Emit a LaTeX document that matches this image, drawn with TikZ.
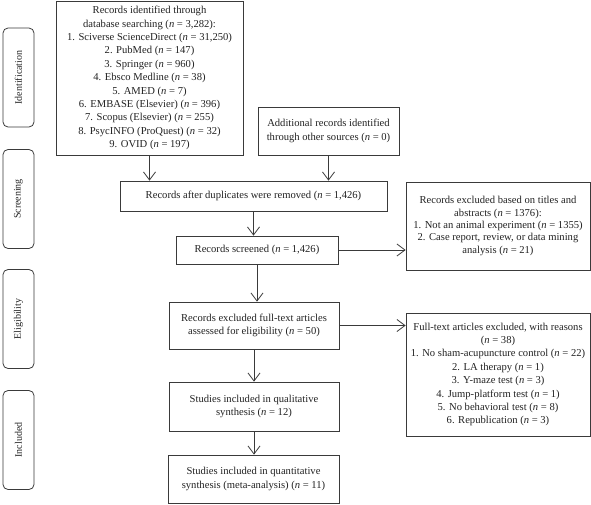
\documentclass[tikz,border=0pt]{standalone}
\usepackage{fontspec}
\setmainfont{Liberation Serif}
\usetikzlibrary{arrows.meta}
\definecolor{linec}{HTML}{3A3A3A}
\definecolor{txtc}{HTML}{222222}
\newcommand\nn{\textit{n}}
\begin{document}
\begin{tikzpicture}[x=1pt,y=-1pt,
  box/.style={draw=linec, line width=0.8pt, align=center, inner sep=0pt, text=txtc,
    font=\fontsize{10.6}{13.4}\selectfont},
  side/.style={draw=linec, line width=0.8pt, rounded corners=5pt, rotate=90, inner sep=0pt,
    minimum width=99pt, minimum height=31pt, text=txtc, font=\fontsize{10}{12}\selectfont},
  arr/.style={draw=linec, line width=0.8pt, -{Straight Barb[length=8pt,width=12pt]}}]
\useasboundingbox (0,0) rectangle (591,504);

\node[side] (sid) at (18.5,77.5) {Identification};
\node[side] (sscr) at (18.5,199) {Screening};
\node[side] (sel) at (18.5,319) {Eligibility};
\node[side] (sinc) at (18.5,440) {Included};

\node[box, minimum width=187pt, minimum height=154pt] (b1) at (149.5,78)
 {Records identified through\\ database searching (\nn{} = 3,282):\\
  1. Sciverse ScienceDirect (\nn{} = 31,250)\\ 2. PubMed (\nn{} = 147)\\
  3. Springer (\nn{} = 960)\\ 4. Ebsco Medline (\nn{} = 38)\\ 5. AMED (\nn{} = 7)\\
  6. EMBASE (Elsevier) (\nn{} = 396)\\ 7. Scopus (Elsevier) (\nn{} = 255)\\
  8. PsycINFO (ProQuest) (\nn{} = 32)\\ 9. OVID (\nn{} = 197)};

\node[box, minimum width=141pt, minimum height=48pt] (add) at (328.5,131)
 {Additional records identified\\ through other sources (\nn{} = 0)};

\node[box, minimum width=267pt, minimum height=30pt] (dup) at (253.5,196)
 {Records after duplicates were removed (\nn{} = 1,426)};

\node[box, minimum width=162pt, minimum height=28pt] (scr) at (257,250)
 {Records screened (\nn{} = 1,426)};

\node[box, minimum width=184pt, minimum height=88pt, font=\fontsize{10.6}{12.4}\selectfont] (exc1) at (498,226)
 {Records excluded based on titles and\\ abstracts (\nn{} = 1376):\\
  1. Not an animal experiment (\nn{} = 1355)\\
  2. Case report, review, or data mining\\ analysis (\nn{} = 21)};

\node[box, minimum width=170pt, minimum height=47pt] (ft) at (254,325.5)
 {Records excluded full-text articles\\ assessed for eligibility (\nn{} = 50)};

\node[box, minimum width=184pt, minimum height=123pt] (exc2) at (498,374.5)
 {Full-text articles excluded, with reasons\\ (\nn{} = 38)\\
  1. No sham-acupuncture control (\nn{} = 22)\\ 2. LA therapy (\nn{} = 1)\\
  3. Y-maze test (\nn{} = 3)\\ 4. Jump-platform test (\nn{} = 1)\\
  5. No behavioral test (\nn{} = 8)\\ 6. Republication (\nn{} = 3)};

\node[box, minimum width=170pt, minimum height=49pt] (qual) at (254,406.5)
 {Studies included in qualitative\\ synthesis (\nn{} = 12)};

\node[box, minimum width=171pt, minimum height=48pt] (quant) at (253.5,479)
 {Studies included in quantitative\\ synthesis (meta-analysis) (\nn{} = 11)};

\draw[arr] (b1.south) -- (b1.south |- dup.north);
\draw[arr] (add.south) -- (add.south |- dup.north);
\draw[arr] (dup.south) -- (dup.south |- scr.north);
\draw[arr] (scr.east) -- (scr.east -| exc1.west);
\draw[arr] (scr.south) -- (scr.south |- ft.north);
\draw[arr] (ft.east) -- (ft.east -| exc2.west);
\draw[arr] (ft.south) -- (ft.south |- qual.north);
\draw[arr] (qual.south) -- (qual.south |- quant.north);
\end{tikzpicture}
\end{document}
